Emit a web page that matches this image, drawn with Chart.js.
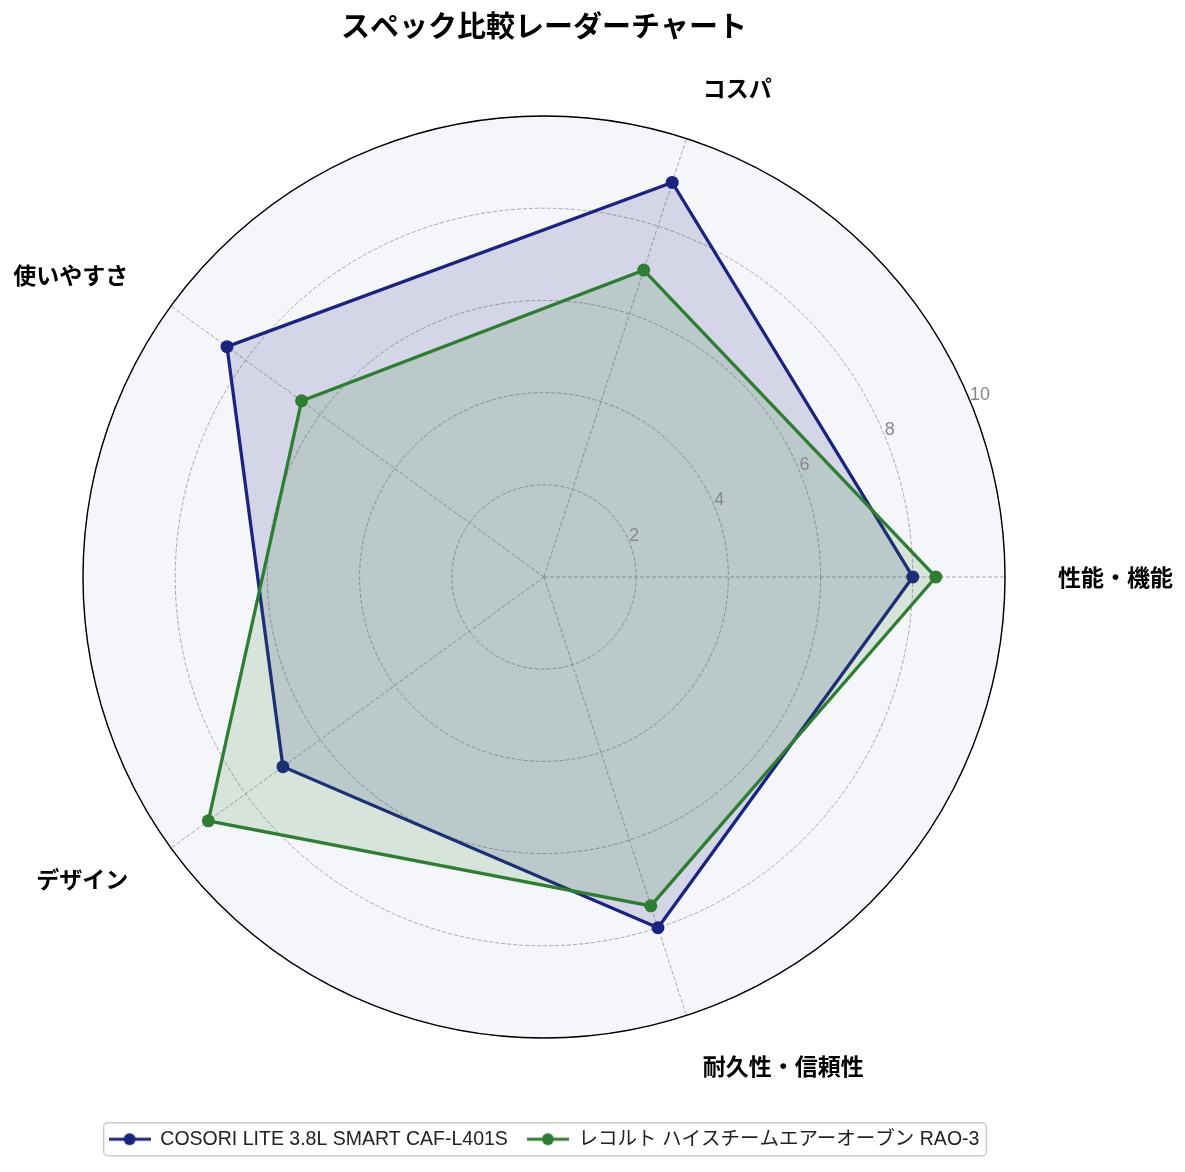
<!DOCTYPE html>
<html>
<head>
<meta charset="utf-8">
<script src="https://cdn.jsdelivr.net/npm/chart.js@4.4.1/dist/chart.umd.min.js"></script>
<style>
  html, body { margin: 0; padding: 0; background: #fff; }
  #wrap { width: 1185px; height: 1172px; }
</style>
</head>
<body>
<div id="wrap"><canvas id="radarChart" width="1185" height="1172"></canvas></div>
<script>
// data (matplotlib order: counter-clockwise from the right)
const categories = ["性能・機能", "コスパ", "使いやすさ", "デザイン", "耐久性・信頼性"];
const cosoriValues = [8, 9, 8.5, 7, 8];
const recolteValues = [8.5, 7, 6.5, 9, 7.5];
const seriesNames = ["COSORI LITE 3.8L SMART CAF-L401S", "レコルト ハイスチームエアーオーブン RAO-3"];
const tickValues = [2, 4, 6, 8, 10];

const blue = "#1a237e";
const green = "#2e7d32";
const jpFont = "'Noto Sans CJK JP', sans-serif";
const latinFont = "'Liberation Sans', 'Noto Sans CJK JP', sans-serif";

// chart.js goes clockwise, matplotlib counter-clockwise
const cw = (a) => [a[0]].concat(a.slice(1).reverse());

// legend icon: line with a dot
function legendIcon(color) {
  const c = document.createElement("canvas");
  c.width = 42; c.height = 14;
  const g = c.getContext("2d");
  g.strokeStyle = color; g.lineWidth = 3;
  g.beginPath(); g.moveTo(0, 7); g.lineTo(42, 7); g.stroke();
  g.fillStyle = color;
  g.beginPath(); g.arc(21, 7, 6, 0, Math.PI * 2); g.fill();
  return c;
}
const icons = [legendIcon(blue), legendIcon(green)];

const radarExtras = {
  id: "radarExtras",
  afterDraw(chart) {
    const ctx = chart.ctx;
    const scale = chart.scales.r;
    const labels = cw(categories);
    ctx.save();
    // outer circle
    ctx.strokeStyle = "#000";
    ctx.lineWidth = 1.4;
    ctx.beginPath();
    ctx.arc(scale.xCenter, scale.yCenter, scale.getDistanceFromCenterForValue(10), 0, Math.PI * 2);
    ctx.stroke();
    // point labels
    ctx.fillStyle = "#000";
    ctx.font = "bold 23px " + jpFont;
    ctx.textBaseline = "middle";
    labels.forEach((lab, i) => {
      const p = scale.getPointPosition(i, scale.drawingArea + 53);
      const dx = p.x - scale.xCenter;
      ctx.textAlign = dx > 1 ? "left" : (dx < -1 ? "right" : "center");
      ctx.fillText(lab, p.x, p.y);
    });
    // radial tick labels at 22.5 deg
    const a = 22.5 * Math.PI / 180;
    ctx.fillStyle = "#888";
    ctx.font = "18px " + latinFont;
    ctx.textAlign = "left";
    ctx.textBaseline = "bottom";
    tickValues.forEach((v) => {
      const d = scale.getDistanceFromCenterForValue(v);
      ctx.fillText(String(v), scale.xCenter + d * Math.cos(a), scale.yCenter - d * Math.sin(a) + 3);
    });
    // legend frame
    const boxes = chart.legend.legendHitBoxes;
    if (boxes && boxes.length) {
      const l = Math.min(...boxes.map(b => b.left)) - 5;
      const r = Math.max(...boxes.map(b => b.left + b.width)) + 7;
      const cy = boxes[0].top + boxes[0].height / 2;
      ctx.strokeStyle = "#cccccc";
      ctx.lineWidth = 1.5;
      ctx.beginPath();
      ctx.roundRect(l, cy - 16.5, r - l, 33, 4);
      ctx.stroke();
    }
    ctx.restore();
  }
};

new Chart(document.getElementById("radarChart").getContext("2d"), {
  type: "radar",
  data: {
    labels: cw(categories),
    datasets: [
      {
        label: seriesNames[0],
        data: cw(cosoriValues),
        borderColor: blue,
        backgroundColor: "rgba(26, 35, 126, 0.15)",
        borderWidth: 3.3,
        pointRadius: 6.5,
        pointHoverRadius: 6.5,
        pointBorderWidth: 0,
        pointBackgroundColor: blue,
        fill: true,
        order: 1,
      },
      {
        label: seriesNames[1],
        data: cw(recolteValues),
        borderColor: green,
        backgroundColor: "rgba(46, 125, 50, 0.15)",
        borderWidth: 3.3,
        pointRadius: 6.5,
        pointHoverRadius: 6.5,
        pointBorderWidth: 0,
        pointBackgroundColor: green,
        fill: true,
        order: 0,
      },
    ],
  },
  options: {
    responsive: false,
    animation: false,
    devicePixelRatio: 1,
    layout: { padding: { left: 83, right: 180, top: 0, bottom: 13 } },
    scales: {
      r: {
        min: 0,
        max: 10,
        startAngle: 90,
        backgroundColor: "#f5f6fa",
        ticks: { display: false, stepSize: 2 },
        pointLabels: { display: false },
        grid: {
          circular: true,
          color: "rgba(140, 140, 140, 0.8)",
          lineWidth: 0.9,
        },
        border: { dash: [4, 2] },
        angleLines: {
          color: "rgba(140, 140, 140, 0.8)",
          lineWidth: 0.9,
          borderDash: [4, 2],
        },
      },
    },
    plugins: {
      title: {
        display: true,
        text: "スペック比較レーダーチャート",
        color: "#000",
        font: { family: jpFont, size: 29, weight: "bold" },
        padding: { top: 9, bottom: 0 },
      },
      legend: {
        position: "bottom",
        labels: {
          color: "#222",
          font: { family: latinFont, size: 19.5 },
          usePointStyle: true,
          pointStyleWidth: 42,
          padding: 19,
          generateLabels(chart) {
            const items = Chart.defaults.plugins.legend.labels.generateLabels(chart);
            items.forEach((it) => { it.pointStyle = icons[it.datasetIndex]; });
            return items.sort((a, b) => a.datasetIndex - b.datasetIndex);
          },
        },
      },
      tooltip: { enabled: false },
    },
  },
  plugins: [radarExtras],
});
</script>
</body>
</html>
